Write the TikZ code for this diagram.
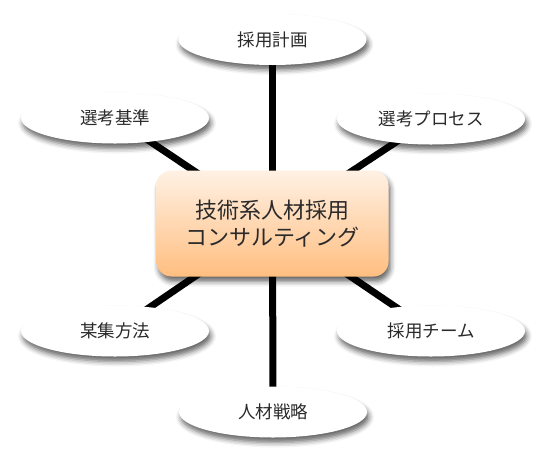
\documentclass[tikz,border=0pt]{standalone}
\usepackage{fontspec}
\newfontfamily\cjk{Noto Sans CJK JP}
\usetikzlibrary{shapes.geometric,shadows.blur,backgrounds}
\definecolor{hubtop}{HTML}{FFF1E4}
\definecolor{hubbot}{HTML}{FFBE80}
\definecolor{txt}{HTML}{2A2A2A}
\begin{document}
\begin{tikzpicture}[x=1pt,y=-1pt,
  bubble/.style={ellipse, minimum width=188pt, minimum height=51pt, inner sep=0pt,
    fill=white, text=txt, font=\cjk\fontsize{17.5}{20}\selectfont,
    blur shadow={shadow xshift=2pt, shadow yshift=-5pt, shadow blur radius=5pt, shadow opacity=60}},
  hub/.style={rectangle, rounded corners=15pt, minimum width=232pt, minimum height=106pt,
    top color=hubtop, bottom color=hubbot, align=center, inner sep=0pt, text=txt,
    font=\cjk\fontsize{22}{27}\selectfont,
    blur shadow={shadow xshift=2pt, shadow yshift=-5pt, shadow blur radius=5pt, shadow opacity=60}},
  spoke/.style={line width=7pt, black}]
\useasboundingbox (0,0) rectangle (546,467);
\node[hub] (c) at (272.5,223.5) {技術系人材採用\\コンサルティング};
\node[bubble] (t)  at (272.5,39.5) {採用計画};
\node[bubble] (tl) at (115,118) {選考基準};
\node[bubble] (tr) at (431,119) {選考プロセス};
\node[bubble] (bl) at (115,331) {某集方法};
\node[bubble] (br) at (431,331) {採用チーム};
\node[bubble] (b)  at (273,412) {人材戦略};
\begin{pgfonlayer}{background}
\foreach \n in {t,tl,tr,bl,br,b} \draw[spoke] (c.center) -- (\n.center);
\end{pgfonlayer}
\end{tikzpicture}
\end{document}
